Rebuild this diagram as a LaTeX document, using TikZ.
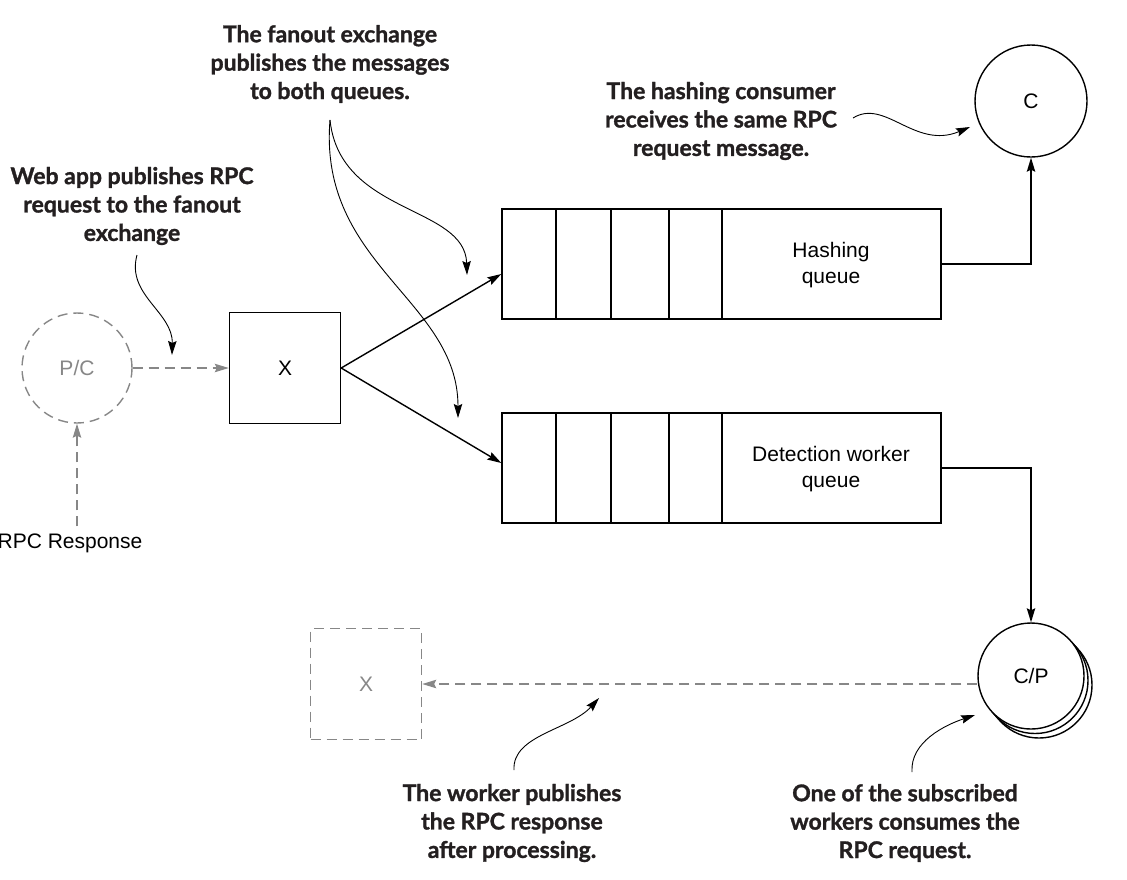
\documentclass[tikz,border=0pt]{standalone}
\usepackage{fontspec}
\setmainfont{Liberation Sans}
\newfontfamily\annfont{Lato}[BoldFeatures={FakeBold=1.3}]
\usepackage{xcolor}
\usepackage{tikz}
\usetikzlibrary{shapes,positioning,arrows.meta}
\definecolor{ghostgray}{RGB}{135,135,135}
\definecolor{ink}{RGB}{35,31,32}
\tikzset{ell/.style={circle,draw,line width=0.7pt,minimum size=55pt,inner sep=0pt,fill=white,font=\fontsize{10.5}{13}\selectfont}}
\tikzset{box/.style={rectangle,draw,line width=0.7pt,minimum size=55.5pt,inner sep=0pt,font=\fontsize{10.5}{13}\selectfont}}
\tikzset{que/.style={rectangle,draw,line width=0.7pt,minimum width=219.5pt,minimum height=55pt,inner sep=0pt}}
\tikzset{lbl/.style={align=center,font=\fontsize{10.5}{13}\selectfont}}
\tikzset{ghost/.style={draw=ghostgray,text=ghostgray,line width=0.7pt,dash pattern=on 5pt off 3pt}}
\tikzset{note/.style={align=center,text=ink,font=\annfont\bfseries\fontsize{11.5}{14.2}\selectfont}}
\tikzset{pointer/.style={->,line width=0.45pt}}

\begin{document}
\begin{tikzpicture}[>={Stealth[length=7pt,width=4.2pt,inset=1pt]},x=0.5pt,y=-0.5pt]
        \useasboundingbox (0,0) rectangle (1127,879);

        % publisher side
        \node[ell,ghost] (pc) at (77,368) {P/C};
        \node[lbl] (rr) at (70,543) {RPC Response};
        \node[box] (x) at (285,368) {X};

        % queues
        \node[que] (hq) at (721.5,264) {};
        \node[que] (dq) at (721.5,468) {};
        \foreach \d in {556,611,669,722} {
            \draw[line width=0.7pt] (\d,209) -- (\d,319);
            \draw[line width=0.7pt] (\d,413) -- (\d,523);
        }
        \node[lbl] (hql) at (831,265) {Hashing\\queue};
        \node[lbl] (dql) at (831,469) {Detection worker\\queue};

        % consumers
        \node[ell,minimum size=56pt] (c) at (1031,101) {C};
        \node[ell,minimum size=53pt] (cp3) at (1039,685) {};
        \node[ell,minimum size=53pt] (cp2) at (1035,680.5) {};
        \node[ell,minimum size=53pt] (cp) at (1031,676) {C/P};
        \node[box,ghost] (xb) at (366,684) {X};

        \draw [ghost,->] (rr.north -| pc) to [] (pc);
        \draw [ghost,->] (pc) to [] (x);
        \draw [->,line width=0.7pt] (x.east) to [] ([yshift=-5pt]hq.west);
        \draw [->,line width=0.7pt] (x.east) to [] ([yshift=2.5pt]dq.west);
        \draw [->,line width=0.7pt] (hq.east) -| (c);
        \draw [->,line width=0.7pt] (dq.east) -| (cp);
        \draw [ghost,->] (cp.west |- xb) to [] (xb);

        % notes
        \node[note] (n1) at (132,206) {Web app publishes RPC\\request to the fanout\\exchange};
        \node[note] (n2) at (330,64) {The fanout exchange\\publishes the messages\\to both queues.};
        \node[note] (n3) at (721,121) {The hashing consumer\\receives the same RPC\\request message.};
        \node[note] (n4) at (512,823) {The worker publishes\\the RPC response\\after processing.};
        \node[note] (n5) at (905,823) {One of the subscribed\\workers consumes the\\RPC request.};

        \coordinate (s1) at (137,255);
        \coordinate (e1) at (172,355);
        \coordinate (s2) at (330,120);
        \coordinate (e2a) at (467,275);
        \coordinate (e2b) at (458,418);
        \coordinate (s3) at (853,118);
        \coordinate (e3) at (970,127);
        \coordinate (s4) at (514,770);
        \coordinate (e4) at (599,698);
        \coordinate (s5) at (912,772);
        \coordinate (e5) at (975,715);

        \draw [pointer] (s1) .. controls (126,295) and (173,312) .. (e1);
        \draw [pointer] (s2) .. controls (340,215) and (465,205) .. (e2a);
        \draw [pointer] (s2) .. controls (318,265) and (458,300) .. (e2b);
        \draw [pointer] (s3) .. controls (885,98) and (915,150) .. (e3);
        \draw [pointer] (s4) .. controls (512,735) and (570,730) .. (e4);
        \draw [pointer] (s5) .. controls (910,742) and (945,725) .. (e5);
    \end{tikzpicture}
\end{document}
